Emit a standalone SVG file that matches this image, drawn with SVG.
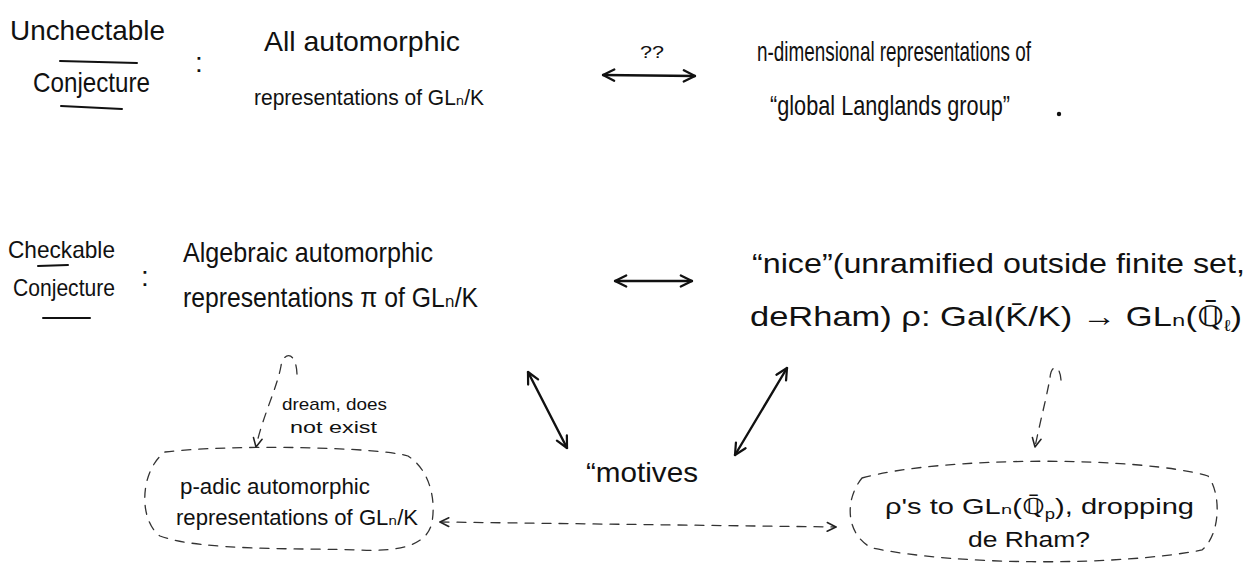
<svg xmlns="http://www.w3.org/2000/svg" width="1254" height="566" viewBox="0 0 1254 566">
<style>
text{font-family:"Liberation Sans","DejaVu Sans",sans-serif;fill:#111}
.big{font-size:28px}
.lbl{font-size:24px}
.mid{font-size:22px}
.sm{font-size:17px}
.solid{stroke:#111;stroke-width:2.4;fill:none;stroke-linecap:round}
.dash{stroke:#333;stroke-width:1.3;fill:none;stroke-dasharray:9 8;stroke-linecap:round}
.ul{stroke:#111;stroke-width:2;fill:none;stroke-linecap:round}
</style>
<defs>
<marker id="ah" viewBox="0 0 10 10" refX="9" refY="5" markerWidth="14" markerHeight="14" markerUnits="userSpaceOnUse" orient="auto-start-reverse">
<path d="M1,1 L9,5 L1,9" fill="none" stroke="#111" stroke-width="1.6" stroke-linecap="round" stroke-linejoin="round"/>
</marker>
<marker id="dh" viewBox="0 0 10 10" refX="9" refY="5" markerWidth="11" markerHeight="11" markerUnits="userSpaceOnUse" orient="auto-start-reverse">
<path d="M1,1 L9,5 L1,9" fill="none" stroke="#222" stroke-width="1.4" stroke-linecap="round" stroke-linejoin="round"/>
</marker>
</defs>
<rect width="1254" height="566" fill="#fff"/>

<g id="label-uncheckable">
<text class="big" x="10" y="40" textLength="155" lengthAdjust="spacingAndGlyphs">Unchectable</text>
<text class="big" x="33" y="92" textLength="117" lengthAdjust="spacingAndGlyphs">Conjecture</text>
<path class="ul" d="M60,61 L137,63"/>
<path class="ul" d="M61,106 L122,109"/>
<text class="big" x="195" y="72">:</text>
</g>

<g id="node-all-automorphic">
<text class="big" x="264" y="51" textLength="196" lengthAdjust="spacingAndGlyphs">All automorphic</text>
<text class="mid" x="254" y="105" textLength="230" lengthAdjust="spacingAndGlyphs">representations of GLₙ/K</text>
</g>

<g id="node-global-langlands">
<text class="big" x="757" y="61" textLength="274" lengthAdjust="spacingAndGlyphs">n-dimensional representations of</text>
<text class="big" x="770" y="115" textLength="240" lengthAdjust="spacingAndGlyphs">“global Langlands group”</text>
<circle cx="1059" cy="114" r="2.2" fill="#111"/>
</g>

<g id="label-checkable">
<text class="lbl" x="8" y="258" textLength="107" lengthAdjust="spacingAndGlyphs">Checkable</text>
<text class="lbl" x="13" y="296" textLength="102" lengthAdjust="spacingAndGlyphs">Conjecture</text>
<path class="ul" d="M38,266 L68,265" stroke-width="1.2"/>
<path class="ul" d="M43,318 L90,318"/>
<text class="big" x="141" y="286">:</text>
</g>

<g id="node-algebraic-automorphic">
<text class="big" x="183" y="262" textLength="250" lengthAdjust="spacingAndGlyphs">Algebraic automorphic</text>
<text class="big" x="183" y="307" textLength="295" lengthAdjust="spacingAndGlyphs">representations π of GLₙ/K</text>
</g>

<g id="node-nice-galois">
<text class="big" x="752" y="273" textLength="493" lengthAdjust="spacingAndGlyphs">“nice”(unramified outside finite set,</text>
<text class="big" x="750" y="326" textLength="492" lengthAdjust="spacingAndGlyphs">deRham) ρ: Gal(K̄/K) → GLₙ(ℚ̄<tspan font-size="16" dy="5">ℓ</tspan><tspan dy="-5">)</tspan></text>
</g>

<g id="node-motives">
<text class="big" x="586" y="482" textLength="112" lengthAdjust="spacingAndGlyphs">“motives</text>
</g>

<g id="node-p-adic">
<path class="dash" d="M165,452 C230,444 380,447 408,456 C430,470 436,500 432,522 C428,545 400,552 360,550 C300,548 200,551 160,536 C138,520 140,470 165,452 Z"/>
<text class="mid" x="180" y="494" textLength="190" lengthAdjust="spacingAndGlyphs">p-adic automorphic</text>
<text class="mid" x="176" y="525" textLength="242" lengthAdjust="spacingAndGlyphs">representations of GLₙ/K</text>
</g>

<g id="node-rho-p">
<path class="dash" d="M862,478 C940,456 1140,456 1208,476 C1222,495 1220,535 1202,550 C1120,566 960,566 872,548 C846,535 844,500 862,478 Z"/>
<text class="mid" x="885" y="514" textLength="309" lengthAdjust="spacingAndGlyphs">ρ's to GLₙ(ℚ̄<tspan font-size="14" dy="5">p</tspan><tspan dy="-5">), dropping</tspan></text>
<text class="mid" x="968" y="547" textLength="122" lengthAdjust="spacingAndGlyphs">de Rham?</text>
</g>

<g id="label-dream">
<text class="sm" x="282" y="410" textLength="105" lengthAdjust="spacingAndGlyphs">dream, does</text>
<text class="sm" x="290" y="433" textLength="87" lengthAdjust="spacingAndGlyphs">not exist</text>
</g>

<g id="connectors">
<line class="solid" x1="603" y1="75" x2="695" y2="76" marker-start="url(#ah)" marker-end="url(#ah)"/>
<text class="sm" x="640" y="58" textLength="24" lengthAdjust="spacingAndGlyphs">??</text>
<line class="solid" x1="615" y1="281" x2="692" y2="281" marker-start="url(#ah)" marker-end="url(#ah)"/>
<line class="solid" x1="528" y1="372" x2="567" y2="448" marker-start="url(#ah)" marker-end="url(#ah)"/>
<line class="solid" x1="787" y1="368" x2="735" y2="455" marker-start="url(#ah)" marker-end="url(#ah)"/>
<path class="dash" d="M440,522 L836,527" marker-start="url(#dh)" marker-end="url(#dh)"/>
<path class="dash" d="M297,374 C296,350 283,352 281,366 C277,388 262,418 256,447" marker-end="url(#dh)" stroke-dasharray="7 9"/>
<path class="dash" d="M1061,380 C1060,364 1051,364 1050,378 C1046,400 1040,422 1035,447" marker-end="url(#dh)" stroke-dasharray="3 10"/>
</g>
</svg>
